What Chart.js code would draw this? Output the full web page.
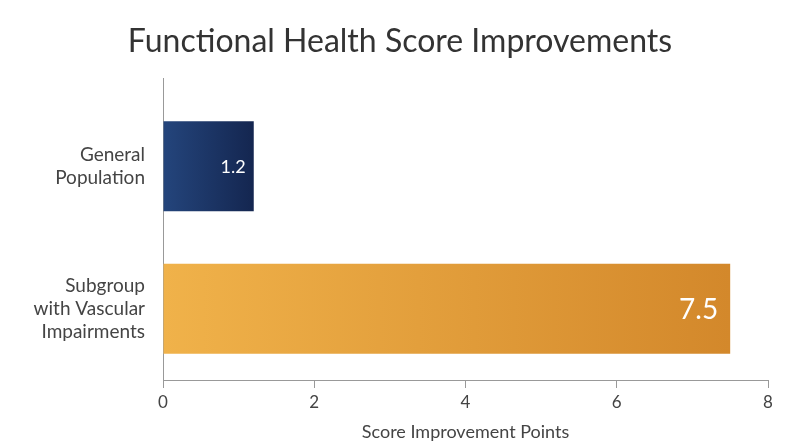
<!DOCTYPE html><html><head><meta charset="utf-8">
<script src="https://cdn.jsdelivr.net/npm/chart.js@4"></script>
<style>html,body{margin:0;background:#fff}#w{width:800px;height:447px}</style></head><body><div id="w"><canvas id="c"></canvas></div>
<script>
const chartTitle = "Functional Health Score Improvements";
const categories = [["General","Population"],["Subgroup","with Vascular","Impairments"]];
const values = [1.2, 7.5];
const valueLabels = ["1.2","7.5"];
const xTicks = [0,2,4,6,8];
const xTitle = "Score Improvement Points";
const colorStops = [["#24457c","#142650"],["#f0b24a","#d3882b"]];

const font = "Lato, 'Open Sans', sans-serif";
function grad(ctx){
  const ch = ctx.chart, a = ch.chartArea; if(!a) return colorStops[ctx.dataIndex][0];
  const x1 = ch.scales.x.getPixelForValue(values[ctx.dataIndex]);
  const g = ch.ctx.createLinearGradient(a.left,0,x1,0);
  g.addColorStop(0,colorStops[ctx.dataIndex][0]); g.addColorStop(1,colorStops[ctx.dataIndex][1]);
  return g;
}
const deco = {id:'deco', afterDraw(ch){
  const c = ch.ctx, a = ch.chartArea; c.save();
  c.strokeStyle="#999"; c.lineWidth=1; c.beginPath(); c.moveTo(a.left+0.5,78); c.lineTo(a.left+0.5,a.top); c.stroke();
  c.fillStyle="#333"; c.font="32px "+font; c.textAlign="center"; c.textBaseline="middle";
  c.fillText(chartTitle, 400, 42);
  const meta = ch.getDatasetMeta(0);
  meta.data.forEach((b,i)=>{
    c.fillStyle="#fff"; c.textAlign="right";
    c.font=(i===0?"18px ":"28px ")+font;
    c.fillText(valueLabels[i], b.x-(i===0?8:12), b.y+1);
  });
  c.restore();
}};
new Chart(document.getElementById('c'),{
  type:'bar',
  data:{labels:categories,datasets:[{data:values,backgroundColor:grad,barPercentage:0.63,categoryPercentage:1}]},
  options:{indexAxis:'y',responsive:true,maintainAspectRatio:false,animation:false,
    layout:{padding:{top:95,right:32,left:0,bottom:0}},
    plugins:{legend:{display:false},tooltip:{enabled:false}},
    scales:{
      x:{min:0,max:8,afterBuildTicks:s=>{s.ticks=xTicks.map(v=>({value:v}))},
        grid:{drawOnChartArea:false,drawTicks:true,tickLength:8,color:"#999"},
        border:{color:"#999"},
        ticks:{color:"#444",font:{size:17,family:font},padding:4},
        title:{display:true,text:xTitle,color:"#444",font:{size:18,family:font},padding:{top:4}},
        afterFit:s=>{s.height=67}},
      y:{grid:{display:false},border:{color:"#999"},
        ticks:{color:"#444",font:{size:19,family:font,lineHeight:1.2},padding:10},
        afterFit:s=>{s.width=163}}
    }},
  plugins:[deco]
});
</script></body></html>
